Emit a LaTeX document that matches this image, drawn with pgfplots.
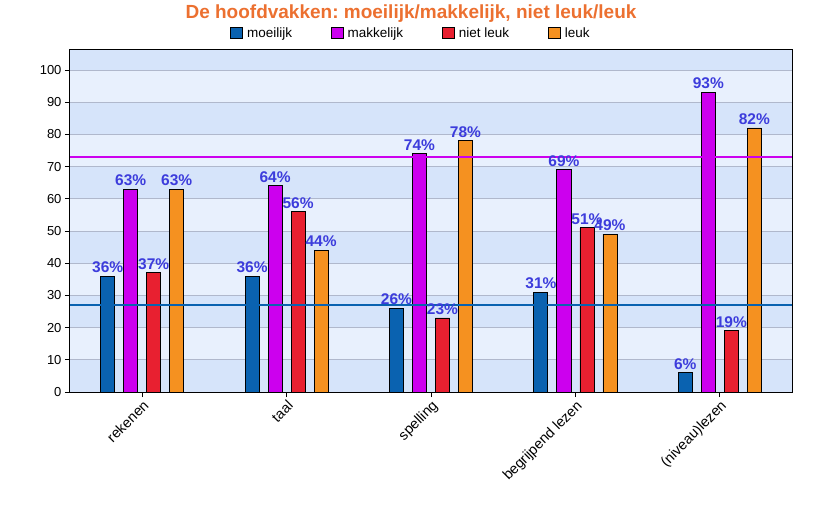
\documentclass[border=0pt]{standalone}
\usepackage{pgfplots}
\pgfplotsset{compat=1.18}
\usepackage{fontspec}
\setmainfont{Liberation Sans}
\frenchspacing
\definecolor{cblue}{RGB}{10,98,176}
\definecolor{cmag}{RGB}{204,0,238}
\definecolor{cred}{RGB}{232,32,48}
\definecolor{corange}{RGB}{245,145,32}
\definecolor{clabel}{RGB}{60,60,220}
\definecolor{ctitle}{RGB}{236,112,48}
\definecolor{banddark}{RGB}{214,228,250}
\definecolor{bandlight}{RGB}{232,240,253}
\definecolor{cgrid}{RGB}{176,184,204}
\pgfplotsset{
  mybar/.style={draw=black, line width=0.8pt,
    nodes near coords={\pgfmathprintnumber{\pgfplotspointmeta}\%},
    every node near coord/.append style={font=\bfseries\fontsize{15.5}{17}\selectfont, text=clabel, anchor=south, inner sep=2pt, yshift=1pt}},
}
\begin{document}
\begin{tikzpicture}
\path[use as bounding box] (0,0) rectangle (822pt,522pt);
\node[anchor=base, text=ctitle, font=\bfseries\fontsize{19}{22}\selectfont, inner sep=0pt] at (411pt,503pt) {De hoofdvakken: moeilijk/makkelijk, niet leuk/leuk};
\begin{axis}[
  at={(70pt,130pt)}, anchor=south west,
  scale only axis, width=722pt, height=342pt,
  ybar=9pt, bar width=14pt,
  xmin=-0.5, xmax=4.5, ymin=0, ymax=106.2,
  xtick={0,1,2,3,4},
  xticklabels={rekenen,taal,spelling,begrijpend lezen,(niveau)lezen},
  ytick={0,10,...,100},
  xtick pos=left, ytick pos=left,
  tick align=outside, major tick length=5pt,
  tick style={black, line width=0.8pt},
  axis line style={black, line width=1pt},
  axis on top,
  axis background/.style={fill=bandlight},
  /pgf/number format/assume math mode=true,
  yticklabel style={font=\fontsize{13}{15}\selectfont},
  xticklabel style={font=\fontsize{14.3}{16}\selectfont, rotate=45, anchor=north east, inner sep=1.5pt},
  legend columns=4,
  legend style={at={(0.4723,1.0497)}, anchor=center, draw=none, fill=none,
    font=\fontsize{13.5}{15}\selectfont,
    /tikz/every even column/.append style={column sep=37pt}},
  legend image code/.code={\draw[#1, draw=black, line width=0.6pt] (0pt,-5.5pt) rectangle (12pt,6pt); \path (14pt,0pt);},
]
\fill[banddark] (axis cs:-0.5,0) rectangle (axis cs:4.5,10);
\fill[banddark] (axis cs:-0.5,20) rectangle (axis cs:4.5,30);
\fill[banddark] (axis cs:-0.5,40) rectangle (axis cs:4.5,50);
\fill[banddark] (axis cs:-0.5,60) rectangle (axis cs:4.5,70);
\fill[banddark] (axis cs:-0.5,80) rectangle (axis cs:4.5,90);
\fill[banddark] (axis cs:-0.5,100) rectangle (axis cs:4.5,106.2);
\draw[cgrid, line width=0.8pt] (axis cs:-0.5,10) -- (axis cs:4.5,10);
\draw[cgrid, line width=0.8pt] (axis cs:-0.5,20) -- (axis cs:4.5,20);
\draw[cgrid, line width=0.8pt] (axis cs:-0.5,30) -- (axis cs:4.5,30);
\draw[cgrid, line width=0.8pt] (axis cs:-0.5,40) -- (axis cs:4.5,40);
\draw[cgrid, line width=0.8pt] (axis cs:-0.5,50) -- (axis cs:4.5,50);
\draw[cgrid, line width=0.8pt] (axis cs:-0.5,60) -- (axis cs:4.5,60);
\draw[cgrid, line width=0.8pt] (axis cs:-0.5,70) -- (axis cs:4.5,70);
\draw[cgrid, line width=0.8pt] (axis cs:-0.5,80) -- (axis cs:4.5,80);
\draw[cgrid, line width=0.8pt] (axis cs:-0.5,90) -- (axis cs:4.5,90);
\draw[cgrid, line width=0.8pt] (axis cs:-0.5,100) -- (axis cs:4.5,100);
\addplot[mybar, fill=cblue] coordinates {(0,36) (1,36) (2,26) (3,31) (4,6)};
\addlegendentry{moeilijk}
\addplot[mybar, fill=cmag] coordinates {(0,63) (1,64) (2,74) (3,69) (4,93)};
\addlegendentry{makkelijk}
\addplot[mybar, fill=cred] coordinates {(0,37) (1,56) (2,23) (3,51) (4,19)};
\addlegendentry{niet leuk}
\addplot[mybar, fill=corange] coordinates {(0,63) (1,44) (2,78) (3,49) (4,82)};
\addlegendentry{leuk}
\addplot[sharp plot, no marks, cmag, line width=2pt, forget plot] coordinates {(-0.5,73) (4.5,73)};
\addplot[sharp plot, no marks, cblue, line width=2pt, forget plot] coordinates {(-0.5,27) (4.5,27)};
\end{axis}
\end{tikzpicture}
\end{document}
